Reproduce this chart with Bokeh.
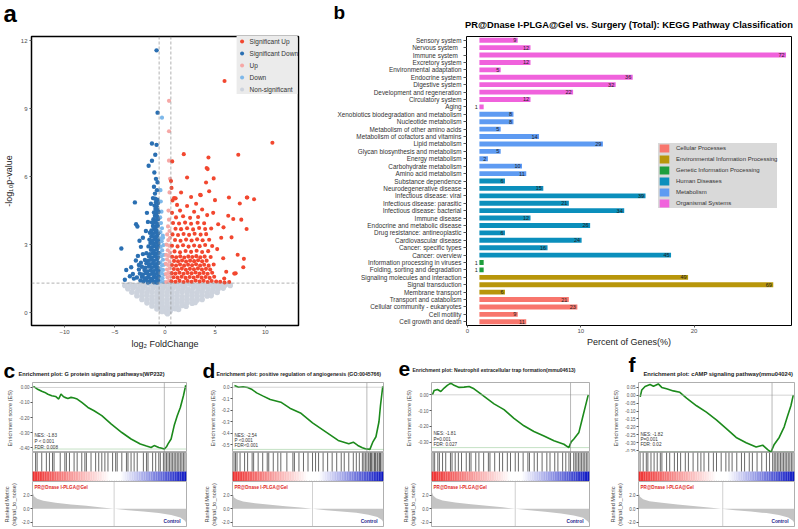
import numpy as np
from bokeh.plotting import figure
from bokeh.models import (ColumnDataSource, Span, Label, Legend, LegendItem,
                          FixedTicker, FactorRange, Range1d, PrintfTickFormatter)
from bokeh.layouts import row, column
from bokeh.embed import file_html
from bokeh.resources import INLINE
from bokeh.core.properties import value

FONT = "Liberation Sans"

# ====================== Panel a : volcano data ======================
A_XTICKS = [-10, -5, 0, 5, 10]
A_YTICKS = [0, 3, 6, 9, 12]
FC_CUT = 0.585
P_CUT = 1.3

SIG_UP = [
    (0.65,1.38),(1.05,1.36),(1.45,1.4),(1.85,1.35),(2.25,1.39),(2.65,1.36),(3.05,1.41),(3.45,1.37),(3.85,1.4),(4.25,1.35),(4.65,1.39),(5.1,1.37),(5.5,1.36),
    (0.85,1.56),(1.25,1.54),(1.65,1.58),(2.05,1.53),(2.45,1.57),(2.85,1.55),(3.25,1.59),(3.65,1.54),(4.05,1.57),(4.45,1.53),(4.9,1.58),
    (0.68,1.74),(1.05,1.72),(1.45,1.76),(1.85,1.71),(2.25,1.75),(2.65,1.73),(3.05,1.77),(3.45,1.72),(3.85,1.75),(4.25,1.71),(4.7,1.76),
    (0.88,1.92),(1.28,1.9),(1.68,1.94),(2.08,1.89),(2.48,1.93),(2.88,1.91),(3.28,1.95),(3.68,1.9),(4.08,1.93),(4.5,1.9),
    (0.7,2.1),(1.1,2.08),(1.5,2.12),(1.9,2.07),(2.3,2.11),(2.7,2.09),(3.1,2.13),(3.5,2.08),(3.9,2.11),(4.35,2.07),(4.85,2.12),
    (0.9,2.28),(1.3,2.26),(1.7,2.3),(2.1,2.25),(2.5,2.29),(2.9,2.27),(3.3,2.31),(3.7,2.26),(4.15,2.29),
    (0.72,2.46),(1.12,2.44),(1.52,2.48),(1.92,2.43),(2.32,2.47),(2.72,2.45),(3.12,2.49),(3.52,2.44),(3.95,2.47),(4.55,2.45),
    (0.95,2.7),(1.5,2.66),(2.05,2.72),(2.6,2.68),(3.15,2.73),(3.7,2.67),(4.3,2.71),
    (0.7,2.95),(1.25,2.92),(1.8,2.97),(2.35,2.91),(2.9,2.96),(3.45,2.93),(4.0,2.98),(4.7,2.94),
    (1.0,3.2),(1.55,3.17),(2.1,3.22),(2.65,3.18),(3.2,3.23),(3.75,3.19),(4.4,3.21),
    (0.75,3.45),(1.3,3.42),(1.85,3.47),(2.4,3.43),(2.95,3.48),(3.55,3.44),(4.1,3.46),
    (1.05,3.7),(1.6,3.68),(2.2,3.72),(2.8,3.67),(3.4,3.73),(4.0,3.69),(4.6,3.71),
    (0.8,3.95),(1.4,3.93),(2.0,3.97),(2.6,3.92),(3.25,3.96),(3.9,3.94),
    (1.1,4.2),(1.8,4.25),(2.5,4.18),(3.3,4.22),(4.2,4.3),(0.7,4.4),(1.5,4.5),(2.9,4.45),(3.7,4.55),(4.8,4.4),
    (1.2,4.75),(2.2,4.7),(3.1,4.8),(0.9,5.05),(2.6,5.1),(3.5,5.2),(4.4,5.35),(1.6,5.3),(5.3,3.9),(5.6,3.3),
    (5.2,2.8),(5.8,2.4),(6.1,1.8),(5.9,1.5),(6.4,1.35),(0.65,5.5),(0.75,4.95),
    (10.7,7.49),(1.87,6.99),(4.33,6.84),(7.3,6.96),(4.25,6.33),(4.15,6.38),(2.2,5.96),(4.85,5.92),(4.09,5.74),
    (0.72,6.67),(0.6,5.8),(8.15,5.08),(8.87,5.0),(6.37,5.08),(7.45,4.81),(3.56,5.18),(4.98,4.96),(1.06,5.04),
    (8.13,3.69),(7.6,4.1),(7.24,2.55),(7.86,2.37),(7.8,2.0),(7.04,1.73),(6.9,1.72),(5.93,1.33),(6.8,4.13),
    (6.3,4.27),(5.83,3.76),(6.63,3.32),(5.93,10.22),(8.2,5.08),
]
SIG_DOWN = [
    (-2.45,1.42),(-2.15,1.38),(-1.85,1.45),(-1.55,1.36),(-1.25,1.41),(-0.95,1.37),(-0.68,1.44),(-1.7,1.33),(-1.1,1.34),(-0.8,1.32),
    (-2.3,1.58),(-2.0,1.52),(-1.7,1.56),(-1.4,1.5),(-1.1,1.57),(-0.82,1.53),(-0.66,1.6),
    (-2.5,1.72),(-2.2,1.68),(-1.9,1.74),(-1.6,1.66),(-1.3,1.71),(-1.0,1.69),(-0.72,1.75),
    (-2.05,1.88),(-1.75,1.82),(-1.45,1.86),(-1.15,1.83),(-0.88,1.89),(-0.66,1.84),
    (-2.3,2.02),(-1.95,1.98),(-1.6,2.03),(-1.3,1.99),(-1.0,2.04),(-0.74,2.0),
    (-1.85,2.18),(-1.5,2.13),(-1.2,2.17),(-0.92,2.14),(-0.68,2.19),
    (-2.0,2.32),(-1.7,2.28),(-1.4,2.33),(-1.1,2.29),(-0.8,2.34),
    (-1.6,2.47),(-1.3,2.43),(-1.0,2.48),(-0.7,2.44),
    (-1.85,2.62),(-1.5,2.58),(-1.2,2.63),(-0.9,2.59),(-0.67,2.64),
    (-1.4,2.77),(-1.1,2.73),(-0.82,2.78),
    (-1.65,2.92),(-1.3,2.88),(-1.0,2.93),(-0.72,2.89),
    (-1.45,3.07),(-1.15,3.03),(-0.88,3.08),(-0.66,3.04),
    (-1.55,3.22),(-1.25,3.18),(-0.95,3.23),(-0.7,3.19),
    (-1.35,3.37),(-1.05,3.33),(-0.8,3.38),
    (-1.5,3.52),(-1.2,3.48),(-0.92,3.53),(-0.68,3.49),
    (-1.1,3.67),(-0.85,3.63),(-1.35,3.62),
    (-1.2,3.82),(-0.95,3.78),(-0.72,3.83),
    (-1.05,3.97),(-0.8,3.93),(-1.3,3.98),
    (-1.15,4.12),(-0.9,4.08),(-0.68,4.13),
    (-1.0,4.27),(-0.78,4.23),
    (-1.1,4.42),(-0.85,4.38),(-0.66,4.44),
    (-0.95,4.57),(-0.75,4.53),
    (-1.05,4.72),(-0.82,4.68),
    (-0.9,4.87),(-0.7,4.83),
    (-0.98,5.02),(-0.76,4.98),
    (-2.7,2.5),(-2.4,2.9),(-2.2,3.3),(-1.9,3.6),(-1.7,4.0),(-3.2,1.7),(-2.8,1.55),(-2.6,2.1),(-1.8,4.4),(-1.4,4.8),
    (-0.84,11.57),(-0.74,8.82),(-1.3,7.46),(-0.84,7.4),(-0.97,6.96),(-1.3,6.7),(-1.63,6.48),(-1.06,6.18),
    (-3.0,4.86),(-2.88,3.9),(-2.75,3.8),(-4.35,2.83),(-3.37,2.0),(-3.86,1.88),(-3.5,1.6),(-2.54,3.17),
    (-2.2,2.58),(-0.9,5.9),(-0.75,5.75),(-1.1,5.55),(-0.8,5.4),(-1.0,5.25),(-1.2,5.05),(-4.0,1.45),
    (-3.1,1.5),(-2.9,2.3),(-2.6,1.9),(-2.4,2.2),
]
UP = [
    (0.12,1.35),(0.42,1.4),(0.25,1.55),(0.5,1.6),(0.1,1.7),(0.35,1.75),(0.2,1.9),(0.48,1.95),(0.3,2.1),(0.08,2.15),
    (0.45,2.25),(0.2,2.35),(0.38,2.5),(0.12,2.55),(0.5,2.65),(0.28,2.75),(0.42,2.95),(0.15,3.0),(0.33,3.2),(0.5,3.3),
    (0.22,3.45),(0.45,3.6),(0.3,3.8),(0.4,4.1),(0.35,4.5),(0.45,5.3),(0.4,6.7),(0.4,8.0),(0.4,9.34),(0.5,5.9),
]
DOWN = [
    (-0.12,1.35),(-0.42,1.38),(-0.25,1.52),(-0.5,1.58),(-0.1,1.68),(-0.35,1.74),(-0.2,1.88),(-0.48,1.93),(-0.3,2.08),(-0.08,2.12),
    (-0.45,2.22),(-0.2,2.33),(-0.38,2.48),(-0.12,2.55),(-0.5,2.62),(-0.28,2.74),(-0.42,2.9),(-0.15,2.98),(-0.33,3.15),(-0.5,3.28),
    (-0.22,3.4),(-0.45,3.55),(-0.3,3.72),(-0.4,3.95),(-0.2,3.3),(-0.48,4.2),(-0.35,4.45),(-0.42,4.9),(-0.3,8.6),(-0.45,5.4),
]
NONSIG = [
    (-4.0,1.2),(-3.5,1.24),(-3.0,1.19),(-2.5,1.23),(-2.0,1.2),(-1.5,1.25),(-1.0,1.21),(-0.5,1.24),(0.0,1.2),(0.5,1.23),(1.0,1.19),
    (1.5,1.24),(2.0,1.21),(2.5,1.25),(3.0,1.2),(3.5,1.23),(4.0,1.19),(4.5,1.24),(5.0,1.21),(5.5,1.18),(6.0,1.22),(6.5,1.2),
    (-3.7,1.05),(-3.2,1.08),(-2.7,1.04),(-2.2,1.07),(-1.7,1.03),(-1.2,1.08),(-0.7,1.05),(-0.2,1.07),(0.3,1.04),(0.8,1.08),
    (1.3,1.05),(1.8,1.07),(2.3,1.03),(2.8,1.08),(3.3,1.05),(3.8,1.07),(4.3,1.04),(4.8,1.06),(5.3,1.05),(5.8,1.08),
    (-3.3,0.9),(-2.8,0.88),(-2.3,0.92),(-1.8,0.87),(-1.3,0.91),(-0.8,0.89),(-0.3,0.92),(0.2,0.88),(0.7,0.91),(1.2,0.87),
    (1.7,0.92),(2.2,0.89),(2.7,0.9),(3.2,0.88),(3.7,0.92),(4.2,0.87),(4.7,0.9),(5.2,0.89),
    (-2.8,0.74),(-2.3,0.72),(-1.8,0.76),(-1.3,0.71),(-0.8,0.75),(-0.3,0.73),(0.2,0.76),(0.7,0.72),(1.2,0.75),(1.7,0.71),
    (2.2,0.74),(2.7,0.76),(3.2,0.72),(3.7,0.75),(4.2,0.73),(4.6,0.75),
    (-2.3,0.58),(-1.8,0.56),(-1.3,0.6),(-0.8,0.55),(-0.3,0.59),(0.2,0.57),(0.7,0.6),(1.2,0.56),(1.7,0.59),(2.2,0.57),(2.7,0.6),(3.2,0.56),(3.7,0.58),
    (-1.8,0.43),(-1.3,0.41),(-0.8,0.45),(-0.3,0.42),(0.2,0.44),(0.7,0.41),(1.2,0.45),(1.7,0.42),(2.2,0.44),(2.7,0.41),(3.0,0.45),
    (-1.3,0.29),(-0.8,0.27),(-0.3,0.31),(0.2,0.28),(0.7,0.3),(1.2,0.27),(1.7,0.31),(2.1,0.28),
    (-0.8,0.16),(-0.35,0.14),(0.1,0.17),(0.55,0.15),(1.0,0.17),(1.35,0.14),
    (-0.3,0.05),(0.1,0.03),(0.5,0.06),(0.25,-0.05),
]

# ====================== Panel b : KEGG classification ======================
KEGG_TITLE = "PR@Dnase I-PLGA@Gel vs. Surgery (Total): KEGG Pathway Classification"
KEGG_CATS = [
    "Sensory system", "Nervous   system", "Immune   system", "Excretory system", "Environmental adaptation",
    "Endocrine system", "Digestive system", "Development and regeneration", "Circulatory system", "Aging",
    "Xenobiotics biodegradation and metabolism", "Nucleotide metabolism", "Metabolism of other amino acids",
    "Metabolism of cofactors and vitamins", "Lipid metabolism", "Glycan biosynthesis and metabolism",
    "Energy metabolism", "Carbohydrate metabolism", "Amino acid metabolism",
    "Substance dependence", "Neurodegenerative disease", "Infectious disease: viral",
    "Infectious disease: parasitic", "Infectious disease: bacterial", "Immune disease",
    "Endocrine and metabolic disease", "Drug resistance: antineoplastic", "Cardiovascular disease",
    "Cancer: specific types", "Cancer: overview",
    "Information processing in viruses", "Folding, sorting and degradation",
    "Signaling molecules and interaction", "Signal transduction", "Membrane transport",
    "Transport and catabolism", "Cellular community - eukaryotes", "Cell motility", "Cell growth and death",
]
KEGG_COUNTS = [9, 12, 72, 12, 5, 36, 32, 22, 12, 1,
               8, 8, 5, 14, 29, 5, 2, 10, 11,
               6, 15, 39, 21, 34, 12, 26, 6, 24, 16, 45,
               1, 1,
               49, 69, 6,
               21, 23, 9, 11]
KEGG_GROUPS = (["Organismal Systems"] * 10 + ["Metabolism"] * 9 + ["Human Diseases"] * 11 +
               ["Genetic Information Processing"] * 2 + ["Environmental Information Processing"] * 3 +
               ["Cellular Processes"] * 4)
GROUP_ORDER = ["Cellular Processes", "Environmental Information Processing", "Genetic Information Processing",
               "Human Diseases", "Metabolism", "Organismal Systems"]
GROUP_COLORS = ["#F8766D", "#B8960A", "#1E9E3C", "#0B8FBC", "#5E9BF2", "#F062DC"]
TOTAL_GENES = 266
BAR_BASE = 1.05
B_XTICKS = [0, 10, 20]

# ====================== Panels c-f : GSEA ======================
GSEA = [
    dict(letter="c", title="Enrichment plot:  G protein signaling pathways(WP232)",
         es_x=[0.006,0.03,0.04,0.06,0.08,0.1,0.125,0.15,0.17,0.185,0.2,0.21,0.23,0.25,0.27,0.29,0.32,0.36,0.4,0.45,0.51,
               0.58,0.64,0.7,0.74,0.77,0.79,0.82,0.84,0.856,0.87,0.88,0.9,0.92,0.94,0.96,0.98,0.995],
         es_y=[0.007,-0.01,-0.015,-0.025,-0.033,-0.045,-0.055,-0.06,-0.077,-0.044,-0.06,-0.066,-0.073,-0.066,-0.07,-0.077,-0.1,-0.133,
               -0.155,-0.188,-0.243,-0.3,-0.343,-0.376,-0.39,-0.4,-0.387,-0.4,-0.405,-0.41,-0.395,-0.376,-0.343,-0.254,-0.188,-0.133,-0.055,0.015],
         peak=0.856,
         hits=[0.02,0.03,0.06,0.09,0.11,0.13,0.14,0.18,0.21,0.22,0.24,0.27,0.29,0.32,0.34,0.35,0.38,0.41,0.43,0.45,0.47,0.49,
               0.52,0.54,0.55,0.58,0.61,0.62,0.64,0.66,0.68,0.72,0.74,0.75,0.78,0.8,0.82,0.83,0.85,0.86,0.87,0.88,0.89,0.9,
               0.91,0.92,0.93,0.94,0.95,0.96,0.97,0.98,0.99],
         met_y=[2.6,1.9,1.5,1.2,0.9,0.65,0.45,0.2,0.0,-0.2,-0.4,-0.65,-0.95,-1.3,-1.8,-2.2],
         cross=0.53, es_rng=(-0.433, 0.033), es_ticks=[0, -0.1, -0.2, -0.3, -0.4], fmt="%.2f",
         stats=["NES: -1.83", "P < 0.001", "FDR: 0.008"]),
    dict(letter="d", title="Enrichment plot:  positive regulation of angiogenesis (GO:0045766)",
         es_x=[0.013,0.04,0.07,0.1,0.13,0.16,0.2,0.25,0.32,0.38,0.45,0.53,0.62,0.7,0.77,0.8,0.83,0.86,0.88,0.91,0.93,0.95,0.97,0.98,0.995],
         es_y=[0.014,0.0,0.004,-0.003,-0.02,-0.049,-0.075,-0.107,-0.13,-0.182,-0.223,-0.309,-0.39,-0.462,-0.491,-0.477,-0.506,-0.525,
               -0.535,-0.54,-0.474,-0.43,-0.3,-0.159,0.008],
         peak=0.89,
         hits=[0.01,0.02,0.03,0.05,0.08,0.1,0.13,0.14,0.17,0.2,0.23,0.24,0.27,0.3,0.32,0.36,0.4,0.41,0.44,0.47,0.5,0.53,0.55,
               0.57,0.6,0.63,0.66,0.69,0.72,0.74,0.77,0.8,0.82,0.84,0.86,0.87,0.88,0.89,0.9,0.91,0.915,0.92,0.93,0.94,0.945,
               0.95,0.96,0.97,0.975,0.98,0.99],
         met_y=[2.4,1.7,1.4,1.1,0.85,0.6,0.4,0.2,0.0,-0.2,-0.4,-0.6,-0.9,-1.25,-1.7,-2.1],
         cross=0.53, es_rng=(-0.567, 0.041), es_ticks=[0, -0.1, -0.2, -0.3, -0.4, -0.5], fmt="%.1f",
         stats=["NES:  -2.54", "P <0.001", "FDR<0.001"]),
    dict(letter="e", title="Enrichment plot:    Neutrophil extracellular trap formation(mmu04613)",
         es_x=[0.006,0.017,0.038,0.059,0.08,0.1,0.122,0.143,0.175,0.206,0.238,0.269,0.312,0.354,0.396,0.459,0.522,0.585,0.648,
               0.712,0.775,0.838,0.869,0.884,0.901,0.933,0.954,0.975,0.992],
         es_y=[0.0,0.028,0.034,0.021,0.043,0.06,0.074,0.06,0.047,0.049,0.053,0.038,0.006,-0.026,-0.057,-0.094,-0.149,-0.196,
               -0.232,-0.26,-0.291,-0.313,-0.334,-0.298,-0.28,-0.238,-0.153,-0.068,0.0],
         peak=0.88,
         hits=[0.01,0.02,0.04,0.05,0.07,0.09,0.12,0.13,0.15,0.17,0.19,0.22,0.24,0.25,0.28,0.3,0.33,0.36,0.37,0.4,0.43,0.45,
               0.48,0.5,0.53,0.55,0.58,0.61,0.62,0.65,0.67,0.7,0.73,0.75,0.78,0.8,0.83,0.85,0.87,0.88,0.9,0.91,0.92,0.93,
               0.94,0.95,0.96,0.97,0.98,0.99],
         met_y=[2.7,2.0,1.6,1.25,0.95,0.7,0.45,0.22,0.0,-0.22,-0.45,-0.7,-1.0,-1.35,-1.9,-2.3],
         cross=0.53, es_rng=(-0.365, 0.078), es_ticks=[0, -0.1, -0.2, -0.3], fmt="%.2f",
         stats=["NES: -1.81", "P=0.001", "FDR: 0.027"]),
    dict(letter="f", title="Enrichment plot:  cAMP signaling pathway(mmu04024)",
         es_x=[0.011,0.021,0.042,0.074,0.096,0.127,0.149,0.18,0.223,0.265,0.308,0.372,0.435,0.499,0.563,0.626,0.69,0.754,
               0.796,0.828,0.849,0.87,0.902,0.934,0.955,0.977,0.992],
         es_y=[-0.011,0.033,0.055,0.067,0.056,0.071,0.049,0.04,0.027,0.018,-0.018,-0.067,-0.107,-0.156,-0.211,-0.267,-0.3,
               -0.327,-0.316,-0.344,-0.36,-0.311,-0.267,-0.2,-0.133,-0.067,0.0],
         peak=0.856,
         hits=[0.01,0.03,0.05,0.06,0.08,0.1,0.12,0.14,0.15,0.18,0.2,0.23,0.25,0.27,0.3,0.32,0.35,0.38,0.4,0.42,0.45,0.48,
               0.5,0.53,0.56,0.58,0.6,0.63,0.66,0.68,0.71,0.73,0.76,0.79,0.82,0.84,0.86,0.87,0.88,0.89,0.9,0.91,0.92,0.93,
               0.94,0.95,0.96,0.97,0.98,0.99],
         met_y=[2.5,1.8,1.45,1.15,0.9,0.65,0.42,0.2,0.0,-0.2,-0.42,-0.65,-0.95,-1.3,-1.8,-2.2],
         cross=0.54, es_rng=(-0.362, 0.080),
         es_ticks=[0.05, 0, -0.05, -0.1, -0.15, -0.2, -0.25, -0.3, -0.35], fmt="%.2f",
         stats=["NES: -1.82", "P=0.001", "FDR: 0.02"]),
]
MET_X = [0, 0.01, 0.03, 0.07, 0.15, 0.25, 0.35, 0.45, 0.53, 0.62, 0.72, 0.82, 0.9, 0.96, 0.99, 1.0]
MET_TICKS = [2, 0, -2]
MET_RNG = (-2.81, 4.1)
GROUP_LABEL = "PR@Dnase I-PLGA@Gel"
CONTROL_LABEL = "Control"

# ---------------- layout geometry (pixels, styling only) ----------------
TOTAL_W = 797
HEAD_H = 31
TOP_H = 321
A_W, A_L, A_R, A_T, A_B = 300, 27, 2, 5, 27
B_W, B_L, B_R, B_T, B_B = 497, 166, 6, 1, 20
PH_H, ES_H, MID_H, MET_H = 30, 70, 29, 46
# width, left border, right border, stats px
PANEL_GEOM = [(200, 31, 14, [17, 11, 5]),
              (196, 27, 13, [17, 12, 7]),
              (210, 35, 17, [19, 13, 8]),
              (191, 32, 3, [18, 13, 8])]
# header text positions: (letter x, letter middle y, title x, title middle y, title size)
HEAD_POS = [(3, 18, 18, 21.2, "5.6px"),
            (202, 18, 216, 21.3, "5.2px"),
            (398, 16, 412, 17.4, "5.05px"),
            (628, 12, 643, 21.0, "5.8px")]


def base_axes(p, tick_size="6px", color="#4D4D4D"):
    for ax in p.axis:
        ax.major_label_text_font_size = tick_size
        ax.major_label_text_font = FONT
        ax.major_label_text_color = color
        ax.axis_line_color = None
        ax.minor_tick_line_color = None
        ax.major_tick_in = 0
        ax.major_tick_out = 2
        ax.major_tick_line_color = "#555555"
        ax.major_label_standoff = 2
        ax.axis_label_text_font = FONT
        ax.axis_label_text_font_style = "normal"
        ax.axis_label_text_color = "#222222"


def header_fig(W, H):
    h = figure(width=W, height=H, x_range=Range1d(0, W), y_range=Range1d(H, 0),
               output_backend="svg", toolbar_location=None, title=None, min_border=0,
               x_axis_location=None, y_axis_location=None)
    h.grid.visible = False
    h.outline_line_color = None
    return h


def head_text(h, x, y, t, size, align="left", color="black"):
    h.text(x=[x], y=[y], text=[t], text_font=value(FONT), text_font_size=size,
           text_font_style="bold", text_align=align, text_baseline="middle", text_color=color)


def px2x(rng, fw, px):
    return rng[0] + px * (rng[1] - rng[0]) / fw


def px2y(rng, fh, px):  # px measured upward from the frame bottom
    return rng[0] + px * (rng[1] - rng[0]) / fh


# ====================== top header (panel letters + title of b) ======================
b_fw = B_W - B_L - B_R
top_head = header_fig(TOTAL_W, HEAD_H)
head_text(top_head, 3, 13, "a", "24px")
head_text(top_head, 333, 12, "b", "19px")
head_text(top_head, A_W + B_L + b_fw / 2, 24, KEGG_TITLE, "9.3px", align="center")

# ====================== build panel a ======================
a_xr, a_yr = (-13.3, 13.3), (-0.57, 12.18)
pa = figure(width=A_W, height=TOP_H, x_range=Range1d(*a_xr), y_range=Range1d(*a_yr),
            output_backend="svg", toolbar_location=None, title=None,
            min_border_left=A_L, min_border_right=A_R, min_border_top=A_T, min_border_bottom=A_B)
pa.grid.visible = False
pa.outline_line_color = "black"
pa.outline_line_width = 1.5
pa.xaxis.ticker = FixedTicker(ticks=A_XTICKS)
pa.yaxis.ticker = FixedTicker(ticks=A_YTICKS)
base_axes(pa)
pa.xaxis.axis_label = "log\u2082 FoldChange"
pa.yaxis.axis_label = "-log\u2081\u2080p-value"
pa.xaxis.axis_label_text_font_size = "9px"
pa.yaxis.axis_label_text_font_size = "9px"
pa.xaxis.axis_label_standoff = 2
pa.yaxis.axis_label_standoff = 4

sets = [("Non-significant", NONSIG, "#CDD3DD", 5.6),
        ("Down", DOWN, "#7DB8EA", 4.2),
        ("Up", UP, "#F6A8A6", 4.2),
        ("Significant Down", SIG_DOWN, "#2A6FB2", 4.4),
        ("Significant Up", SIG_UP, "#F2472F", 4.1)]
rend = {}
for name, pts, col, sz in sets:
    src = ColumnDataSource(dict(x=[p[0] for p in pts], y=[p[1] for p in pts]))
    rend[name] = pa.scatter("x", "y", source=src, size=sz, fill_color=col, line_color=None)

for loc in (-FC_CUT, FC_CUT):
    pa.add_layout(Span(location=loc, dimension="height", line_color="#909090",
                       line_width=0.7, line_dash="3 2"))
pa.add_layout(Span(location=P_CUT, dimension="width", line_color="#909090",
                   line_width=0.7, line_dash="3 2"))

leg_a = Legend(items=[LegendItem(label=n, renderers=[rend[n]]) for n in
                      ["Significant Up", "Significant Down", "Up", "Down", "Non-significant"]],
               location="top_right", background_fill_color="#EBEBEB", background_fill_alpha=1,
               border_line_color=None, label_text_font=FONT, label_text_font_size="6.5px",
               label_text_color="#333333", glyph_width=10, glyph_height=10, label_height=10,
               spacing=2, padding=4, margin=0, label_standoff=3)
pa.add_layout(leg_a)

# ====================== build panel b ======================
b_xr = (-0.09, 28.6)
pb = figure(width=B_W, height=TOP_H, x_range=Range1d(*b_xr),
            y_range=FactorRange(factors=list(reversed(KEGG_CATS)), range_padding=0),
            output_backend="svg", toolbar_location=None, title=None,
            min_border_left=B_L, min_border_right=B_R, min_border_top=B_T, min_border_bottom=B_B)
pb.grid.visible = False
pb.outline_line_color = "black"
pb.outline_line_width = 1
pb.xaxis.ticker = FixedTicker(ticks=B_XTICKS)
base_axes(pb)
pb.xaxis.major_label_standoff = 1
pb.yaxis.major_label_text_font_size = "6.4px"
pb.yaxis.major_label_text_color = "#333333"
pb.yaxis.major_tick_out = 3
pb.xaxis.axis_label = "Percent of Genes(%)"
pb.xaxis.axis_label_text_font_size = "9px"
pb.xaxis.axis_label_standoff = 1

b_rends = []
for g, col in zip(GROUP_ORDER, GROUP_COLORS):
    idx = [i for i, gg in enumerate(KEGG_GROUPS) if gg == g]
    cats = [KEGG_CATS[i] for i in idx]
    pct = [KEGG_COUNTS[i] * 100.0 / TOTAL_GENES for i in idx]
    src = ColumnDataSource(dict(cat=cats, left=[BAR_BASE] * len(idx), right=[BAR_BASE + v for v in pct]))
    b_rends.append(pb.hbar(y="cat", left="left", right="right", height=0.66, source=src,
                           fill_color=col, line_color=None))

big = [i for i, c in enumerate(KEGG_COUNTS) if c > 1]
one = [i for i, c in enumerate(KEGG_COUNTS) if c == 1]
src_big = ColumnDataSource(dict(cat=[KEGG_CATS[i] for i in big],
                                x=[BAR_BASE + KEGG_COUNTS[i] * 100.0 / TOTAL_GENES for i in big],
                                t=[str(KEGG_COUNTS[i]) for i in big]))
src_one = ColumnDataSource(dict(cat=[KEGG_CATS[i] for i in one], x=[BAR_BASE] * len(one),
                                t=[str(KEGG_COUNTS[i]) for i in one]))
for s in (src_big, src_one):
    pb.text(x="x", y="cat", text="t", source=s, text_font=value(FONT), text_font_size="5.5px",
            text_align="right", text_baseline="middle", x_offset=-1.5, text_color="#222222")

leg_b = Legend(items=[LegendItem(label=g, renderers=[r]) for g, r in zip(GROUP_ORDER, b_rends)],
               location=(192, 117), background_fill_color="#D9D9D9", background_fill_alpha=1,
               border_line_color=None, label_text_font=FONT, label_text_font_size="6px",
               label_text_color="#333333", glyph_width=12, glyph_height=10, label_height=10,
               spacing=1, padding=5, margin=0, label_standoff=6)
pb.add_layout(leg_b)


# ====================== build panels c-f ======================
def gradient_color(t):
    if t < 0.5:
        f = t / 0.5
        c0 = (238, 45, 45)
        rgb = [c + (255 - c) * f for c in c0]
    elif t < 0.57:
        rgb = [255, 255, 255]
    else:
        f = (t - 0.57) / 0.43
        c1 = (10, 20, 195)
        rgb = [255 + (c - 255) * f for c in c1]
    return "#%02x%02x%02x" % tuple(int(round(v)) for v in rgb)


bottom_head = header_fig(TOTAL_W, PH_H)
for spec, (lx, ly, tx, ty, tsz) in zip(GSEA, HEAD_POS):
    head_text(bottom_head, lx, ly, spec["letter"], "21px")
    head_text(bottom_head, tx, ty, spec["title"], tsz, color="#222222")


def gsea_panel(spec, geom):
    W, L, R, spx = geom
    fw = W - L - R
    er = spec["es_rng"]
    common = dict(width=W, output_backend="svg", toolbar_location=None, title=None,
                  min_border_left=L, min_border_right=R, min_border_bottom=0, min_border_top=0,
                  x_axis_location=None, x_range=Range1d(0, 1))
    es = figure(height=ES_H, y_range=Range1d(*er), **common)
    es.grid.visible = False
    es.outline_line_color = "#9A9A9A"
    es.outline_line_width = 0.8
    es.yaxis.ticker = FixedTicker(ticks=spec["es_ticks"])
    es.yaxis.formatter = PrintfTickFormatter(format=spec["fmt"])
    base_axes(es, tick_size="4.5px", color="#555555")
    es.yaxis.major_label_standoff = 1
    es.yaxis.axis_label = "Enrichment  score (ES)"
    es.yaxis.axis_label_text_font_size = "5.6px"
    es.yaxis.axis_label_text_color = "#444444"
    es.yaxis.axis_label_standoff = 3
    es.add_layout(Span(location=0, dimension="width", line_color="#B5B5B5", line_width=0.6))
    es.add_layout(Span(location=spec["peak"], dimension="height", line_color="#8A8A8A", line_width=0.6))
    es.add_layout(Span(location=min(spec["es_y"]), dimension="width", line_color="#3B9B3B",
                       line_width=0.6, line_dash="1 1"))
    es.line(spec["es_x"], spec["es_y"], line_color="#1C8A1C", line_width=1.6)
    for txt, py in zip(spec["stats"], spx):
        es.add_layout(Label(x=px2x((0, 1), fw, 2), y=px2y(er, ES_H, py), text=txt, text_font=FONT,
                            text_font_size="4.6px", text_baseline="middle", text_color="#333333"))

    mid = figure(height=MID_H, y_range=Range1d(0, 2.9), y_axis_location=None, **common)
    mid.grid.visible = False
    mid.outline_line_color = "#9A9A9A"
    mid.outline_line_width = 0.8
    nseg = 90
    edges = [i / nseg for i in range(nseg + 1)]
    mid.quad(left=edges[:-1], right=edges[1:], bottom=0, top=1,
             fill_color=[gradient_color((edges[i] + edges[i + 1]) / 2) for i in range(nseg)],
             line_color=None)
    h = spec["hits"]
    mid.segment(x0=h, y0=[1.0] * len(h), x1=h, y1=[2.9] * len(h), line_color="#2A2A2A", line_width=0.7)

    met = figure(height=MET_H, y_range=Range1d(*MET_RNG), **common)
    met.grid.visible = False
    met.outline_line_color = "#9A9A9A"
    met.outline_line_width = 0.8
    met.yaxis.ticker = FixedTicker(ticks=MET_TICKS)
    met.yaxis.formatter = PrintfTickFormatter(format="%.1f")
    base_axes(met, tick_size="4.5px", color="#555555")
    met.yaxis.major_label_standoff = 1
    met.yaxis.axis_label = "Ranked Metric\n(signal_to_noise)"
    met.yaxis.axis_label_text_font_size = "5.6px"
    met.yaxis.axis_label_text_color = "#444444"
    met.yaxis.axis_label_standoff = 2
    met.varea(x=MET_X, y1=[0] * len(MET_X), y2=spec["met_y"], fill_color="#C4C4C4")
    met.add_layout(Span(location=spec["cross"], dimension="height", line_color="#B0B0B0", line_width=0.6))
    met.add_layout(Label(x=px2x((0, 1), fw, 2), y=px2y(MET_RNG, MET_H, MET_H - 6), text=GROUP_LABEL,
                         text_font=FONT, text_font_size="4.6px", text_font_style="bold",
                         text_baseline="middle", text_color="#E02424"))
    met.add_layout(Label(x=px2x((0, 1), fw, fw - 6), y=px2y(MET_RNG, MET_H, 6), text=CONTROL_LABEL,
                         text_font=FONT, text_font_size="4.8px", text_font_style="bold",
                         text_align="right", text_baseline="middle", text_color="#1E1E8C"))
    return column(es, mid, met, spacing=0)


panels = [gsea_panel(s, g) for s, g in zip(GSEA, PANEL_GEOM)]
root = column(top_head, row(pa, pb, spacing=0), bottom_head, row(*panels, spacing=0), spacing=0)

open("out.html", "w").write(file_html(root, INLINE))
